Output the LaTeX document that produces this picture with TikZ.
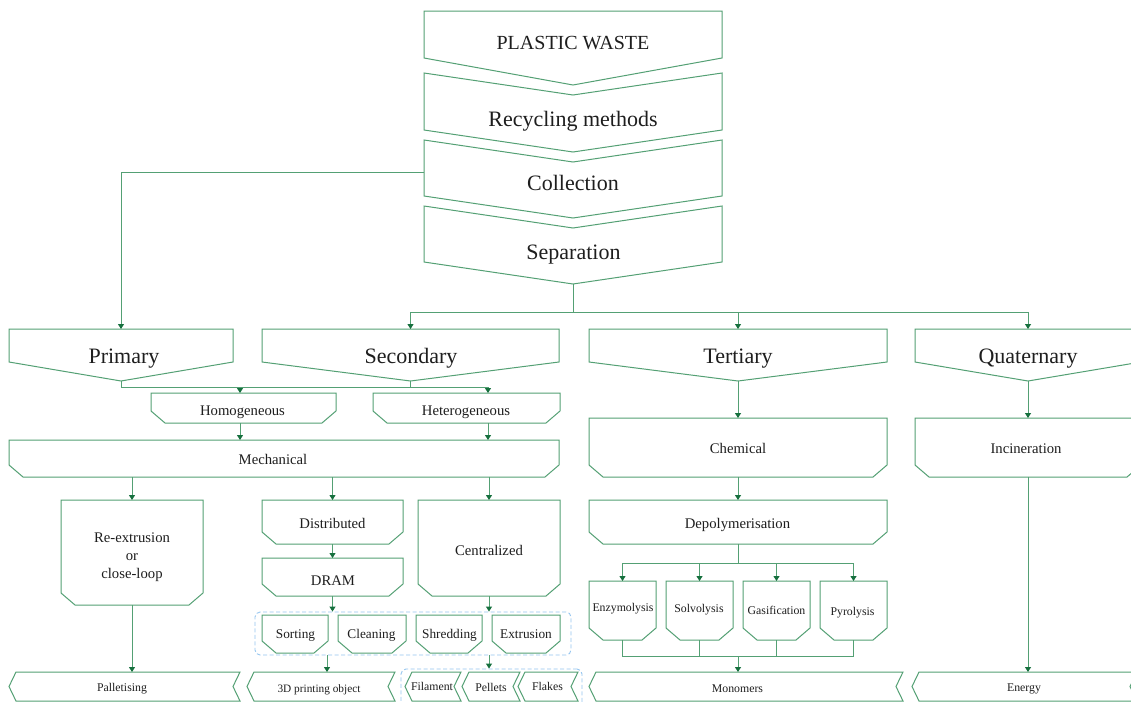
\documentclass[tikz,border=0pt]{standalone}
\usepackage{fontspec}
\setmainfont{Liberation Serif}
\usetikzlibrary{arrows.meta,calc}
\definecolor{lg}{RGB}{84,160,116}
\definecolor{tipg}{RGB}{22,112,62}
\definecolor{dblue}{RGB}{150,198,240}
\definecolor{txtc}{RGB}{30,30,30}
\begin{document}
\begin{tikzpicture}[x=1pt,y=-1pt,
  ln/.style={draw=lg, line width=1pt, line join=miter},
  sb/.style={inner sep=0pt, outer sep=0pt, draw=none},
  pent/.style={sb, append after command={\pgfextra{\let\shn\tikzlastnode
     \draw[ln] (\shn.north west) -- (\shn.north east) -- ([yshift=#1]\shn.south east)
       -- (\shn.south) -- ([yshift=#1]\shn.south west) -- cycle;}}},
  chev/.style={sb, append after command={\pgfextra{\let\shn\tikzlastnode
     \draw[ln] (\shn.north west) -- ([yshift=-#1]\shn.north) -- (\shn.north east)
       -- ([yshift=#1]\shn.south east) -- (\shn.south) -- ([yshift=#1]\shn.south west) -- cycle;}}},
  cham/.style={sb, append after command={\pgfextra{\let\shn\tikzlastnode
     \draw[ln] (\shn.north west) -- (\shn.north east) -- ([yshift=12pt]\shn.south east)
       -- ([xshift=-14pt]\shn.south east) -- ([xshift=14pt]\shn.south west)
       -- ([yshift=12pt]\shn.south west) -- cycle;}}},
  lchev/.style={sb, append after command={\pgfextra{\let\shn\tikzlastnode
     \draw[ln] ([xshift=7pt]\shn.north west) -- (\shn.north east) -- ([xshift=-7pt]\shn.east)
       -- (\shn.south east) -- ([xshift=7pt]\shn.south west) -- (\shn.west) -- cycle;}}},
  grp/.style={draw=dblue, line width=0.9pt, dash pattern=on 4pt off 2.5pt, rounded corners=5pt, inner sep=0pt},
  conn/.style={draw=lg, line width=1pt},
  arr/.style={conn, -{Triangle[length=5pt, width=6pt, color=tipg]}},
  tx/.style={anchor=base, inner sep=0pt, text=txtc},
  fA/.style={font=\fontsize{22}{26}\selectfont},
  fB/.style={font=\fontsize{14.7}{18}\selectfont},
  fC/.style={font=\fontsize{13.3}{16}\selectfont},
  fD/.style={font=\fontsize{11.8}{14}\selectfont}
]
\fill[white] (0,0) rectangle (1131,702);
\useasboundingbox (0,0) rectangle (1131,702);
\clip (0,0) rectangle (1131,702);

% top column
\node[pent=27pt, minimum width=298pt, minimum height=74pt] (pw) at (573,48) {};
\node[chev=22pt, minimum width=298pt, minimum height=79pt] (rec) at (573,112.5) {};
\node[chev=22pt, minimum width=298pt, minimum height=78pt] (coll) at (573,179) {};
\node[chev=22pt, minimum width=298pt, minimum height=78pt] (sep) at (573,245) {};

% row 2
\node[pent=19pt, minimum width=224pt, minimum height=52pt] (prim) at (121,355) {};
\node[pent=19pt, minimum width=297pt, minimum height=52pt] (sec) at (410.5,355) {};
\node[pent=19pt, minimum width=298pt, minimum height=52pt] (ter) at (738,355) {};
\node[pent=19pt, minimum width=226pt, minimum height=52pt] (qua) at (1028,355) {};

% chamfered boxes
\node[cham, minimum width=185pt, minimum height=30pt] (hom) at (243.5,408) {};
\node[cham, minimum width=187pt, minimum height=30pt] (het) at (466.5,408) {};
\node[cham, minimum width=550pt, minimum height=37pt] (mech) at (284,458.5) {};
\node[cham, minimum width=142pt, minimum height=105pt] (reex) at (132,552.5) {};
\node[cham, minimum width=141pt, minimum height=44pt] (dist) at (332.5,522) {};
\node[cham, minimum width=141pt, minimum height=38pt] (dram) at (332.5,577) {};
\node[cham, minimum width=142pt, minimum height=96pt] (cent) at (489,548) {};
\node[cham, minimum width=66pt, minimum height=38pt] (sort) at (295,634) {};
\node[cham, minimum width=68pt, minimum height=38pt] (clean) at (372,634) {};
\node[cham, minimum width=66pt, minimum height=38pt] (shred) at (449,634) {};
\node[cham, minimum width=68pt, minimum height=38pt] (extr) at (526,634) {};
\node[cham, minimum width=298pt, minimum height=59pt] (chem) at (738,447.5) {};
\node[cham, minimum width=226pt, minimum height=59pt] (inc) at (1028,447.5) {};
\node[cham, minimum width=298pt, minimum height=44pt] (depo) at (738,522) {};
\node[cham, minimum width=67pt, minimum height=59pt] (enz) at (622.5,610.5) {};
\node[cham, minimum width=67pt, minimum height=59pt] (solv) at (699.5,610.5) {};
\node[cham, minimum width=67pt, minimum height=59pt] (gas) at (776.5,610.5) {};
\node[cham, minimum width=67pt, minimum height=59pt] (pyro) at (853.5,610.5) {};

% bottom row
\node[lchev, minimum width=231pt, minimum height=29pt] (pal) at (124.5,686.5) {};
\node[lchev, minimum width=148pt, minimum height=29pt] (p3d) at (321,686.5) {};
\node[lchev, minimum width=56pt, minimum height=29pt] (fil) at (433,686.5) {};
\node[lchev, minimum width=58pt, minimum height=29pt] (pel) at (491,686.5) {};
\node[lchev, minimum width=60pt, minimum height=29pt] (flk) at (548,686.5) {};
\node[lchev, minimum width=314pt, minimum height=29pt] (mono) at (746,686.5) {};
\node[lchev, minimum width=225pt, minimum height=29pt] (ener) at (1024.5,686.5) {};

% dashed groups
\node[grp, minimum width=316pt, minimum height=43pt] (grpA) at (413,633.5) {};
\node[grp, minimum width=181pt, minimum height=43pt] (grpB) at (491.5,690.5) {};

% texts
\node[tx, font=\fontsize{20}{24}\selectfont] (tpw) at (573,49) {PLASTIC WASTE};
\node[tx, fA] (trec) at (573,126) {Recycling methods};
\node[tx, fA] (tcoll) at (573,190) {Collection};
\node[tx, fA] (tsep) at (573.5,259) {Separation};
\node[tx, fA] (tprim) at (124,363) {Primary};
\node[tx, fA] (tsec) at (411,363) {Secondary};
\node[tx, fA] (tter) at (738,363) {Tertiary};
\node[tx, fA] (tqua) at (1028,363) {Quaternary};
\node[tx, fB] (thom) at (242.5,415) {Homogeneous};
\node[tx, fB] (thet) at (466,415) {Heterogeneous};
\node[tx, fB] (tmech) at (273,464) {Mechanical};
\node[inner sep=0pt, text=txtc, fB, align=center] (treex) at (132,557.6) {Re-extrusion\\or\\close-loop};
\node[tx, fB] (tdist) at (332.5,528) {Distributed};
\node[tx, fB] (tdram) at (333,585) {DRAM};
\node[tx, fB] (tcent) at (489,555) {Centralized};
\node[tx, fC] (tsort) at (295.5,638) {Sorting};
\node[tx, fC] (tclean) at (371.5,638) {Cleaning};
\node[tx, fC] (tshred) at (449.5,638) {Shredding};
\node[tx, fC] (textr) at (526,638) {Extrusion};
\node[tx, fD] (tpal) at (122,691) {Palletising};
\node[tx, font=\fontsize{11.3}{14}\selectfont] (tp3d) at (319,692) {3D printing object};
\node[tx, fD] (tfil) at (432,690) {Filament};
\node[tx, fD] (tpel) at (491,691) {Pellets};
\node[tx, fD] (tflk) at (547.5,690) {Flakes};
\node[tx, fB] (tchem) at (738,453) {Chemical};
\node[tx, fB] (tinc) at (1026,453) {Incineration};
\node[tx, fB] (tdepo) at (737.5,528) {Depolymerisation};
\node[tx, fD] (tenz) at (623,611) {Enzymolysis};
\node[tx, fD] (tsolv) at (699,612) {Solvolysis};
\node[tx, fD] (tgas) at (776.5,614) {Gasification};
\node[tx, fD] (tpyro) at (852.5,615) {Pyrolysis};
\node[tx, fD] (tmono) at (737.5,692) {Monomers};
\node[tx, fD] (tener) at (1024,691) {Energy};

% connectors
\coordinate (bus1) at (573,312);
\coordinate (bus2) at (121,387);
\coordinate (bus3) at (738,563);
\coordinate (bus4) at (738,656);

\draw[arr] ([yshift=7pt]coll.west) -| (prim.north);
\draw[conn] (sep.south) -- (bus1);
\draw[arr] (bus1) -| (sec.north);
\draw[arr] (bus1) -| (ter.north);
\draw[arr] (bus1) -| (qua.north);

\draw[conn] (prim.south) -- (bus2);
\draw[conn] (sec.south) -- (sec.south |- bus2);
\draw[arr] (bus2) -| ([xshift=-3.5pt]hom.north);
\draw[arr] (bus2) -| ([xshift=21.5pt]het.north);
\draw[arr] ([xshift=-3.5pt]hom.south) -- ([xshift=-3.5pt]hom.south |- mech.north);
\draw[arr] ([xshift=21.5pt]het.south) -- ([xshift=21.5pt]het.south |- mech.north);

\draw[arr] (reex.north |- mech.south) -- (reex.north);
\draw[arr] (dist.north |- mech.south) -- (dist.north);
\draw[arr] (cent.north |- mech.south) -- (cent.north);
\draw[arr] (reex.south) -- (reex.south |- pal.north);
\draw[arr] (dist.south) -- (dram.north);
\draw[arr] (dram.south) -- (dram.south |- grpA.north);
\draw[arr] (cent.south) -- (cent.south |- grpA.north);
\draw[arr] ([xshift=6pt]p3d.north |- grpA.south) -- ([xshift=6pt]p3d.north);
\draw[arr] (cent.south |- grpA.south) -- (cent.south |- grpB.north);

\draw[arr] (ter.south) -- (chem.north);
\draw[arr] (qua.south) -- (inc.north);
\draw[arr] (chem.south) -- (depo.north);
\draw[conn] (depo.south) -- (bus3);
\draw[arr] (bus3) -| (enz.north);
\draw[arr] (bus3) -| (solv.north);
\draw[arr] (bus3) -| (gas.north);
\draw[arr] (bus3) -| (pyro.north);
\draw[conn] (enz.south) |- (bus4);
\draw[conn] (solv.south) |- (bus4);
\draw[conn] (gas.south) |- (bus4);
\draw[conn] (pyro.south) |- (bus4);
\draw[arr] (bus4) -- (bus4 |- mono.north);
\draw[arr] (inc.south) -- (inc.south |- ener.north);
\end{tikzpicture}
\end{document}
